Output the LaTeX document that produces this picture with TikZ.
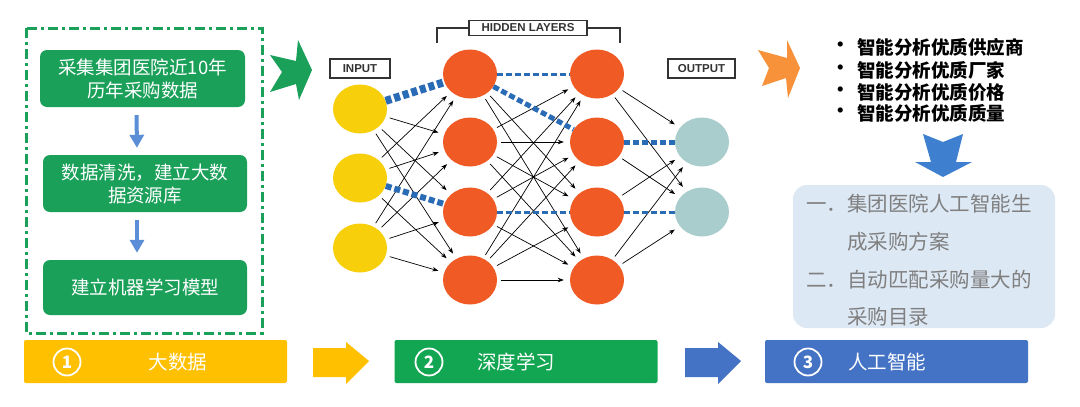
\documentclass[tikz,border=0pt]{standalone}
\usepackage{fontspec}
\setmainfont{Noto Sans CJK SC}
\newfontfamily\lat{Liberation Sans}
\usetikzlibrary{arrows.meta,shapes.geometric}
\definecolor{gbox}{HTML}{1BA05A}
\definecolor{yelbar}{HTML}{FFC000}
\definecolor{gbar}{HTML}{12A552}
\definecolor{bbar}{HTML}{4472C4}
\definecolor{nyel}{HTML}{F7CF0A}
\definecolor{nred}{HTML}{F05A24}
\definecolor{nteal}{HTML}{A9CDCD}
\definecolor{nblue}{HTML}{2A6BB5}
\definecolor{lblue}{HTML}{DDE8F5}
\definecolor{gtext}{HTML}{7F7F7F}
\definecolor{oarr}{HTML}{F7923A}
\definecolor{barr}{HTML}{3E7FCF}
\definecolor{sarr}{HTML}{5B8ED6}
\definecolor{lbl}{HTML}{333333}
\begin{document}
\begin{tikzpicture}[x=1pt,y=-1pt,
  gboxst/.style={fill=gbox,rounded corners=7pt,text=white,font=\fontsize{18.5}{23}\selectfont,align=center,inner sep=0pt},
  neuron/.style={ellipse,minimum width=54pt,minimum height=49pt,inner sep=0pt},
  inneuron/.style={neuron,fill=nyel},
  hidneuron/.style={neuron,fill=nred},
  outneuron/.style={neuron,fill=nteal},
  netarrow/.style={-{Stealth[length=6pt,width=4.5pt]},line width=0.7pt,black,shorten <=4pt,shorten >=6pt},
  hl/.style={nblue,dash pattern=on 6pt off 3pt},
  lblbox/.style={draw=lbl,line width=1.2pt,text=lbl,font=\lat\bfseries\fontsize{11.5}{12}\selectfont,inner sep=0pt},
  barst/.style={rounded corners=2pt,minimum width=263pt,minimum height=43pt,inner sep=0pt},
  numc/.style={circle,draw=white,line width=1.8pt,minimum size=27pt,inner sep=0pt,text=white,font=\bfseries\fontsize{17}{17}\selectfont},
  bartext/.style={text=white,font=\fontsize{19.5}{20}\selectfont},
  bul/.style={anchor=west,font=\bfseries\fontsize{18.5}{20}\selectfont,text=black,inner sep=0pt},
  gline/.style={anchor=west,font=\fontsize{20.5}{21}\selectfont,text=gtext,inner sep=0pt}
]
\useasboundingbox (0,0) rectangle (1080,407);
\fill[white] (0,0) rectangle (1080,407);

% ---- left dashed box ----
\draw[gbox,line width=3pt,dash pattern=on 10pt off 4pt on 3pt off 4pt] (26,28) rectangle (262,333);
\node[gboxst,minimum width=205pt,minimum height=57pt] (b1) at (142.5,78.5) {采集集团医院近10年\\历年采购数据};
\node[gboxst,minimum width=204pt,minimum height=57pt] (b2) at (145,183.5) {数据清洗，建立大数\\据资源库};
\node[gboxst,minimum width=204pt,minimum height=55pt] (b3) at (145,287.5) {建立机器学习模型};
\draw[sarr,line width=4pt,-{Triangle[width=14pt,length=13pt]},shorten <=8pt,shorten >=7pt] ([xshift=-6pt]b1.south) -- ([xshift=-8pt]b2.north);
\draw[sarr,line width=4pt,-{Triangle[width=14pt,length=13pt]},shorten <=8pt,shorten >=7pt] ([xshift=-8pt]b2.south) -- ([xshift=-8pt]b3.north);

% ---- big green arrow ----
\fill[gbox] (270,55) -- (296,61) -- (298,40) -- (312,70) -- (299,100) -- (296,84) -- (270,92) -- (282,72) -- cycle;

% ---- network labels ----
\node[lblbox,minimum width=60pt,minimum height=19pt] (inl) at (360,68.5) {INPUT};
\node[lblbox,minimum width=118pt,minimum height=15pt] (hidl) at (528,28) {HIDDEN LAYERS};
\node[lblbox,minimum width=67pt,minimum height=19pt] (outl) at (701.5,68.5) {OUTPUT};
\draw[lbl,line width=1.2pt] (hidl.west) -- (437,28) -- (437,43);
\draw[lbl,line width=1.2pt] (hidl.east) -- (620,28) -- (620,43);

% ---- neurons ----
\node[inneuron] (i1) at (360,109) {};
\node[inneuron] (i2) at (360,178) {};
\node[inneuron] (i3) at (360,248) {};
\node[hidneuron] (ha) at (470,74) {};
\node[hidneuron] (hb) at (470,142) {};
\node[hidneuron] (hc) at (470,212) {};
\node[hidneuron] (hd) at (470,280) {};
\node[hidneuron] (ka) at (597,74) {};
\node[hidneuron] (kb) at (597,142) {};
\node[hidneuron] (kc) at (597,212) {};
\node[hidneuron] (kd) at (597,280) {};
\node[outneuron] (o1) at (702,142) {};
\node[outneuron] (o2) at (702,212) {};

% ---- connections ----
\foreach \s in {i1,i2,i3}{\foreach \t in {ha,hb,hc,hd}{
  \ifnum\pdfstrcmp{\s\t}{i1ha}=0 \else\ifnum\pdfstrcmp{\s\t}{i2hc}=0 \else
  \draw[netarrow] (\s) -- (\t);\fi\fi}}
\foreach \s in {ha,hb,hc,hd}{\foreach \t in {ka,kb,kc,kd}{
  \ifnum\pdfstrcmp{\s\t}{haka}=0 \else\ifnum\pdfstrcmp{\s\t}{hakb}=0 \else\ifnum\pdfstrcmp{\s\t}{hckc}=0 \else
  \draw[netarrow] (\s) -- (\t);\fi\fi\fi}}
\foreach \s in {ka,kb,kc,kd}{\foreach \t in {o1,o2}{
  \ifnum\pdfstrcmp{\s\t}{kbo1}=0 \else\ifnum\pdfstrcmp{\s\t}{kco2}=0 \else
  \draw[netarrow] (\s) -- (\t);\fi\fi}}
\draw[hl,line width=8pt] (i1) -- (ha);
\draw[hl,line width=6pt] (i2) -- (hc);
\draw[hl,line width=3pt] (ha) -- (ka);
\draw[hl,line width=5pt] (ha) -- (kb);
\draw[hl,line width=3pt] (hc) -- (kc);
\draw[hl,line width=5pt] (kb) -- (o1);
\draw[hl,line width=3pt] (kc) -- (o2);

% ---- orange arrow ----
\fill[oarr] (758,50) -- (787,58) -- (787,40) -- (800,68) -- (788,98) -- (786,78) -- (762,86) -- (769,68) -- cycle;

% ---- bullet list ----
\foreach \y/\t in {47/智能分析优质供应商,70/智能分析优质厂家,92/智能分析优质价格,113/智能分析优质质量}{
  \node[bul] at (831,\y) {•};
  \node[bul] at (857,\y) {\t};
}

% ---- blue down arrow ----
\fill[barr] (923,134) -- (943,142) -- (963,134) -- (956,162) -- (972,162) -- (943,177) -- (915,162) -- (931,162) -- cycle;

% ---- light blue box ----
\node[fill=lblue,rounded corners=14pt,minimum width=262pt,minimum height=143pt,inner sep=0pt] (res) at (924,256.5) {};
\node[gline] at (806,204) {一．集团医院人工智能生};
\node[gline] at (847,242) {成采购方案};
\node[gline] at (806,280) {二．自动匹配采购量大的};
\node[gline] at (847,317) {采购目录};

% ---- bottom bars ----
\node[barst,fill=yelbar] (ybx) at (155.5,361.5) {};
\node[barst,fill=gbar] (gbx) at (526,361.5) {};
\node[barst,fill=bbar] (bbx) at (896.5,361.5) {};
\node[numc] (n1) at (67,362) {1};
\node[numc] (n2) at (429,362) {2};
\node[numc] (n3) at (808,362) {3};
\node[bartext] (t1) at (178,362) {大数据};
\node[bartext] (t2) at (516,362) {深度学习};
\node[bartext] (t3) at (887,362) {人工智能};
\fill[fill=yelbar] (313,348) -- (346,348) -- (346,342) -- (369,361) -- (346,384) -- (346,377) -- (313,377) -- cycle;
\fill[fill=bbar] (685,348) -- (718,348) -- (718,342) -- (741,361) -- (718,384) -- (718,377) -- (685,377) -- cycle;
\end{tikzpicture}
\end{document}
